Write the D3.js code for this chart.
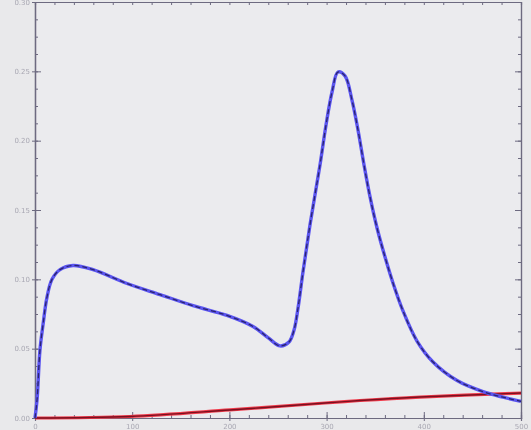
<!DOCTYPE html>
<html>
<head>
<meta charset="utf-8">
<script src="https://cdn.jsdelivr.net/npm/d3@7"></script>
<style>
  html, body { margin: 0; padding: 0; background: #e9e9eb; overflow: hidden; }
  svg { display: block; filter: blur(0.6px); }
</style>
</head>
<body>
<svg id="chart" width="531" height="430"></svg>
<script>
// ---- data ----
const blueX = [0, 2.1, 5.1, 8.2, 12.3, 17.5, 25.7, 39.1, 59.7, 94.7, 128.6, 162.6, 197.5, 224.3, 239.7, 252.1, 261.3, 266.5, 270.6, 275.7, 282.9, 293.2, 299.4, 305.6, 311.7, 318.9, 326.1, 332.3, 338.5, 344.7, 351.9, 360.1, 368.3, 378.6, 393.0, 409.5, 434.2, 460.9, 481.5, 500];
const blueY = [0, 0.013, 0.049, 0.067, 0.087, 0.100, 0.107, 0.110, 0.107, 0.097, 0.089, 0.081, 0.074, 0.066, 0.058, 0.052, 0.0548, 0.0635, 0.0793, 0.1053, 0.1392, 0.1825, 0.2113, 0.2351, 0.2495, 0.2467, 0.2293, 0.2077, 0.1825, 0.1594, 0.1370, 0.1161, 0.0974, 0.0772, 0.0555, 0.0404, 0.027, 0.019, 0.015, 0.012];
const redX = [0, 97.7, 200.6, 298.4, 334.4, 396.1, 500];
const redY = [0, 0.0011, 0.0058, 0.0108, 0.0126, 0.0151, 0.018];
const xTicks = [0, 100, 200, 300, 400, 500];
const xTickLabels = ["0", "100", "200", "300", "400", "500"];
const yTicks = [0, 0.05, 0.10, 0.15, 0.20, 0.25, 0.30];
const yTickLabels = ["0.00", "0.05", "0.10", "0.15", "0.20", "0.25", "0.30"];

// ---- layout ----
const svg = d3.select("#chart");
const L = 35, R = 521, T = 2, B = 418;
const x = d3.scaleLinear().domain([0, 500]).range([L, R]);
const y = d3.scaleLinear().domain([0, 0.30]).range([B, T]);

svg.append("rect").attr("x", L).attr("y", T).attr("width", R - L).attr("height", B - T)
  .attr("fill", "#ebebee");

const axisColor = "#6d6a80";
const minorX = d3.range(0, 501, 20);
const minorY = d3.range(0, 0.3001, 0.0125);

function styleAxis(g) {
  g.select(".domain").attr("stroke", axisColor).attr("stroke-width", 1.2);
  g.selectAll(".tick line").attr("stroke", axisColor);
  g.selectAll(".tick text").attr("fill", "#a9a8b3").attr("font-size", 7)
    .attr("font-family", "DejaVu Sans");
}

// minor ticks (inward)
svg.append("g").attr("transform", `translate(0,${B})`)
  .call(d3.axisTop(x).tickValues(minorX).tickSize(3).tickFormat(""))
  .call(styleAxis);
svg.append("g").attr("transform", `translate(0,${T})`)
  .call(d3.axisBottom(x).tickValues(minorX).tickSize(3).tickFormat(""))
  .call(styleAxis);
svg.append("g").attr("transform", `translate(${L},0)`)
  .call(d3.axisRight(y).tickValues(minorY).tickSize(3).tickFormat(""))
  .call(styleAxis);
svg.append("g").attr("transform", `translate(${R},0)`)
  .call(d3.axisLeft(y).tickValues(minorY).tickSize(3).tickFormat(""))
  .call(styleAxis);

// major ticks
svg.append("g").attr("transform", `translate(0,${B})`)
  .call(d3.axisBottom(x).tickValues(xTicks).tickSize(3).tickPadding(3)
    .tickFormat((d, i) => xTickLabels[i]))
  .call(styleAxis);
svg.append("g").attr("transform", `translate(0,${B})`)
  .call(d3.axisTop(x).tickValues(xTicks).tickSize(6).tickFormat(""))
  .call(styleAxis);
svg.append("g").attr("transform", `translate(${L},0)`)
  .call(d3.axisLeft(y).tickValues(yTicks).tickSize(3).tickPadding(2)
    .tickFormat((d, i) => yTickLabels[i]))
  .call(styleAxis);
svg.append("g").attr("transform", `translate(${L},0)`)
  .call(d3.axisRight(y).tickValues(yTicks).tickSize(6).tickFormat(""))
  .call(styleAxis);
svg.append("g").attr("transform", `translate(${R},0)`)
  .call(d3.axisLeft(y).tickValues(yTicks).tickSize(6).tickFormat(""))
  .call(styleAxis);

// ---- lines ----
const blue = blueX.map((d, i) => [d, blueY[i]]);
const red = redX.map((d, i) => [d, redY[i]]);
const line = d3.line().x(d => x(d[0])).y(d => y(d[1])).curve(d3.curveCatmullRom.alpha(0.5));

svg.append("path").datum(red).attr("d", line).attr("fill", "none")
  .attr("stroke", "#f03a4a").attr("stroke-width", 3.2);
svg.append("path").datum(red).attr("d", line).attr("fill", "none")
  .attr("stroke", "#7a1020").attr("stroke-width", 1.4);

svg.append("path").datum(blue).attr("d", line).attr("fill", "none")
  .attr("stroke", "#5b55f0").attr("stroke-width", 3.4);
svg.append("path").datum(blue).attr("d", line).attr("fill", "none")
  .attr("stroke", "#2a2470").attr("stroke-width", 1.3).attr("stroke-dasharray", "5,3");
</script>
</body>
</html>
